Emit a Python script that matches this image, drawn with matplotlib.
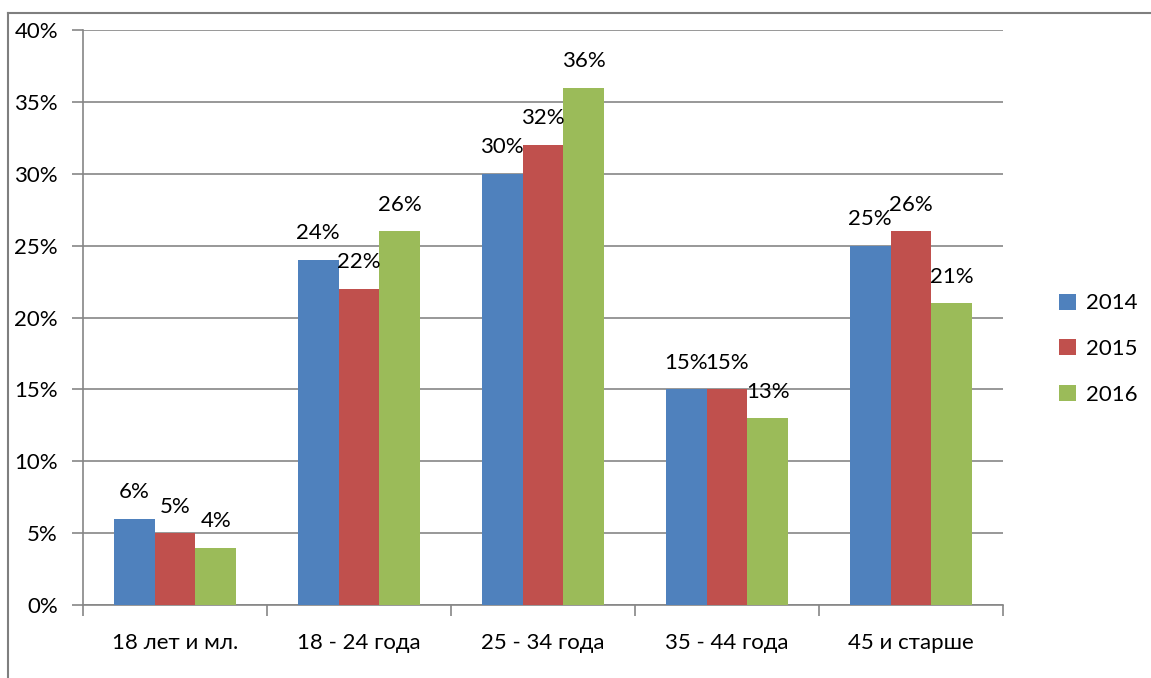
import matplotlib
matplotlib.use("Agg")
import matplotlib.pyplot as plt
import numpy as np
from matplotlib.lines import Line2D
from matplotlib.patches import Patch

plt.rcParams['font.family'] = ['Lato', 'DejaVu Sans']

categories = ["18 лет и мл.", "18 - 24 года", "25 - 34 года", "35 - 44 года", "45 и старше"]
years = ["2014", "2015", "2016"]
values_2014 = [6, 24, 30, 15, 25]
values_2015 = [5, 22, 32, 15, 26]
values_2016 = [4, 26, 36, 13, 21]
series = [values_2014, values_2015, values_2016]
colors = ["#4F81BD", "#C0504D", "#9BBB59"]
y_ticks = [0, 5, 10, 15, 20, 25, 30, 35, 40]

FS = 16

fig = plt.figure(figsize=(11.51, 6.78), dpi=100)
ax = fig.add_axes([83/1151, 1 - 605/678, 920/1151, 575/678])

grid_col = "#868686"
n = len(categories)
x = np.arange(n)
bw = 1 / 4.5
for i, (vals, col) in enumerate(zip(series, colors)):
    pos = x + (i - 1) * bw
    ax.bar(pos, vals, width=bw, color=col, zorder=3, label=years[i])
    for p, v in zip(pos, vals):
        ax.text(p, v + 1.15, f"{v}%", ha="center", va="bottom", fontsize=FS, color="black", zorder=4)

ax.set_xlim(-0.5, n - 0.5)
ax.set_ylim(0, 40)
ax.set_yticks(y_ticks)
ax.set_yticklabels([f"{t}%" for t in y_ticks], fontsize=FS)
ax.set_xticks(x)
ax.set_xticklabels(categories, fontsize=FS)
ax.tick_params(axis="x", length=0, pad=20)
ax.tick_params(axis="y", length=8, width=1.2, color=grid_col, pad=10)
# category separators on the x axis
ax.set_xticks(np.arange(-0.5, n, 1), minor=True)
ax.tick_params(axis="x", which="minor", length=8, width=1.2, color=grid_col)

ax.grid(axis="y", color=grid_col, linewidth=1.2, zorder=0)
for s in ["top", "right"]:
    ax.spines[s].set_visible(False)
for s in ["left", "bottom"]:
    ax.spines[s].set_color(grid_col)
    ax.spines[s].set_linewidth(1.2)

handles = [Patch(facecolor=c, edgecolor="none") for c in colors]
fig.legend(handles, years, loc="center left", bbox_to_anchor=(1048/1151, 1 - 349/678),
           frameon=False, fontsize=FS, handlelength=0.75, handleheight=0.75,
           handletextpad=0.45, labelspacing=1.15, borderpad=0)

# outer frame lines
fig.add_artist(Line2D([8/1151, 8/1151], [0, 1 - 13/678], color="#7f7f7f", linewidth=1.5, transform=fig.transFigure))
fig.add_artist(Line2D([8/1151, 1], [1 - 13/678, 1 - 13/678], color="#7f7f7f", linewidth=1.5, transform=fig.transFigure))

fig.savefig("out.png", dpi=100)
